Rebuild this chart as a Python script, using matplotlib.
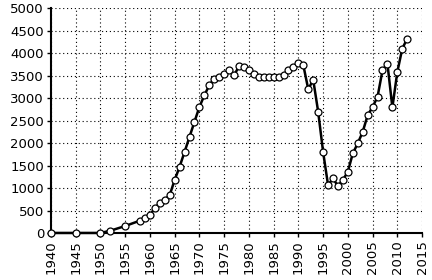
import matplotlib
matplotlib.use("Agg")
import matplotlib.pyplot as plt

years = [1940, 1945, 1950, 1952, 1955,
         1958, 1959, 1960, 1961, 1962, 1963, 1964, 1965, 1966, 1967, 1968, 1969,
         1970, 1971, 1972, 1973, 1974, 1975, 1976, 1977, 1978, 1979,
         1980, 1981, 1982, 1983, 1984, 1985, 1986, 1987, 1988, 1989,
         1990, 1991, 1992, 1993, 1994, 1995, 1996, 1997, 1998, 1999,
         2000, 2001, 2002, 2003, 2004, 2005, 2006, 2007, 2008, 2009,
         2010, 2011, 2012]
values = [0, 0, 0, 50, 155,
          275, 340, 400, 555, 665, 735, 845, 1180, 1475, 1805, 2140, 2475,
          2805, 3065, 3290, 3435, 3480, 3550, 3620, 3510, 3710, 3695,
          3620, 3550, 3480, 3470, 3470, 3470, 3475, 3510, 3620, 3700,
          3790, 3735, 3200, 3410, 2700, 1805, 1065, 1215, 1045, 1180,
          1365, 1770, 1995, 2250, 2620, 2805, 3030, 3620, 3770, 2795,
          3585, 4105, 4325]

xticks = list(range(1940, 2016, 5))
yticks = list(range(0, 5001, 500))

fig = plt.figure(figsize=(4.32, 2.8), dpi=100)
ax = fig.add_axes([0.118, 0.168, 0.859, 0.802])

ax.plot(years, values, color="black", lw=1.8, marker="o", ms=5,
        mfc="white", mec="black", mew=0.9, zorder=3, clip_on=False)

ax.set_xlim(1940, 2015)
ax.set_ylim(0, 5000)
ax.set_xticks(xticks)
ax.set_yticks(yticks)
ax.set_xticklabels([str(t) for t in xticks], rotation=90)
ax.tick_params(axis="both", labelsize=9.5, length=3, width=1, color="black",
               direction="out", pad=2)
ax.grid(True, color="black", linestyle=(0, (1, 2.5)), lw=0.8)
for s in ["top", "right"]:
    ax.spines[s].set_visible(False)
ax.spines["left"].set_linewidth(1.5)
ax.spines["bottom"].set_linewidth(1.5)

fig.savefig("out.png", dpi=100)
